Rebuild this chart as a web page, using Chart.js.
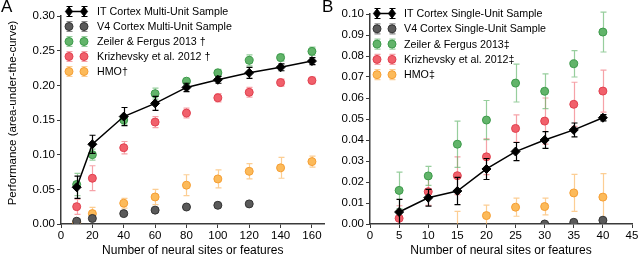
<!DOCTYPE html>
<html>
<head>
<meta charset="utf-8">
<script src="https://cdn.jsdelivr.net/npm/chart.js@4.4.1/dist/chart.umd.min.js"></script>
<style>
  body { margin: 0; background: #fff; width: 640px; height: 261px; position: relative; overflow: hidden;
         font-family: Arial, "Liberation Sans", Helvetica, sans-serif; }
  .wrap { position: absolute; top: 0; height: 261px; }
  #wa { left: 0; width: 330px; }
  #wb { left: 320px; width: 320px; }
  .lbl { position: absolute; top: -3px; font-size: 17px; color: #000; }
</style>
</head>
<body>
<div class="wrap" id="wa"><canvas id="ca" width="330" height="261"></canvas></div>
<div class="wrap" id="wb"><canvas id="cb" width="320" height="261"></canvas></div>
<div class="lbl" style="left:1px">A</div>
<div class="lbl" style="left:322px">B</div>
<script>
// panel A: multi-unit
const xsA = [10, 20, 40, 60, 80, 100, 120, 140, 160];
const xsV4A = [10, 20, 40, 60, 80, 100, 120];
const itA = [0.053, 0.115, 0.155, 0.174, 0.197, 0.208, 0.218, 0.226, 0.235];
const itAErr = [0.016, 0.013, 0.013, 0.010, 0.006, 0.005, 0.008, 0.005, 0.005];
const v4A = [0.004, 0.008, 0.015, 0.020, 0.0245, 0.027, 0.029];
const v4AErr = [0.003, 0.003, 0.002, 0.001, 0.001, 0.001, 0.001];
const zfA = [0.057, 0.100, 0.150, 0.188, 0.206, 0.218, 0.236, 0.240, 0.249];
const zfAErr = [0.016, 0.008, 0.006, 0.008, 0.004, 0.005, 0.008, 0.005, 0.006];
const kzA = [0.025, 0.066, 0.110, 0.147, 0.160, 0.182, 0.190, 0.204, 0.207];
const kzAErr = [0.011, 0.018, 0.009, 0.008, 0.007, 0.006, 0.007, 0.005, 0.005];
const hmoA = [0.0025, 0.015, 0.030, 0.039, 0.056, 0.065, 0.076, 0.081, 0.090];
const hmoAErr = [0.002, 0.009, 0.007, 0.011, 0.015, 0.013, 0.011, 0.015, 0.008];

// panel B: single-unit
const xsB = [5, 10, 15, 20, 25, 30, 35, 40];
const xsV4B = [30, 35, 40];
const xsHmoB = [15, 20, 25, 30, 35, 40];
const itB = [0.0057, 0.0125, 0.0157, 0.0262, 0.0345, 0.0400, 0.0448, 0.0506];
const itBErr = [0.006, 0.004, 0.0065, 0.005, 0.0043, 0.004, 0.0033, 0.0015];
const v4B = [0.0000, 0.0008, 0.0018];
const v4BErr = [0.0005, 0.0005, 0.0008];
const zfB = [0.0160, 0.0229, 0.0380, 0.0495, 0.0671, 0.0632, 0.0763, 0.0914];
const zfBErr = [0.0087, 0.0045, 0.011, 0.0093, 0.009, 0.0083, 0.0063, 0.0095];
const kzB = [0.0027, 0.0154, 0.0230, 0.0320, 0.0455, 0.0490, 0.0570, 0.0633];
const kzBErr = [0.006, 0.0065, 0.009, 0.0085, 0.0065, 0.011, 0.0105, 0.010];
const hmoB = [-0.003, 0.004, 0.008, 0.0083, 0.0148, 0.0128];
const hmoBErr = [0.009, 0.005, 0.0043, 0.004, 0.0088, 0.0112];

const ticksXA = [0, 20, 40, 60, 80, 100, 120, 140, 160];
const ticksYA = [0, 0.05, 0.10, 0.15, 0.20, 0.25, 0.30];
const ticksXB = [0, 5, 10, 15, 20, 25, 30, 35, 40, 45];
const ticksYB = [0, 0.01, 0.02, 0.03, 0.04, 0.05, 0.06, 0.07, 0.08, 0.09, 0.10];

const labelsA = ['IT Cortex Multi-Unit Sample', 'V4 Cortex Multi-Unit Sample',
  'Zeiler & Fergus 2013 \u2020', 'Krizhevsky et al. 2012 \u2020', 'HMO\u2020'];
const labelsB = ['IT Cortex Single-Unit Sample', 'V4 Cortex Single-Unit Sample',
  'Zeiler & Fergus 2013\u2021', 'Krizhevsky et al. 2012\u2021', 'HMO\u2021'];
const yTitleA = 'Performance (area-under-the-curve)';

const FONT = 'Arial, "Liberation Sans", Helvetica, sans-serif';
const AXIS = '#3a3a3a';

const styles = [
  { fill: '#000', border: '#000', err: '#000', shape: 'rectRot', r: 4.5, line: true },
  { fill: '#5a5a5a', border: '#333', err: '#888', shape: 'circle', r: 4 },
  { fill: '#62b46a', border: '#3c9a4a', err: 'rgba(95,180,105,0.65)', shape: 'circle', r: 4 },
  { fill: '#f1606b', border: '#e0404f', err: 'rgba(240,100,110,0.6)', shape: 'circle', r: 4 },
  { fill: '#fcba5a', border: '#f59e33', err: 'rgba(250,180,90,0.65)', shape: 'circle', r: 4 }
];

function pts(xs, ys) { return xs.map((x, i) => ({ x: x, y: ys[i] })); }

function makeSets(series, errs, labels) {
  return series.map((d, i) => {
    const s = styles[i];
    return {
      label: labels[i],
      data: d,
      err: errs[i],
      errColor: s.err,
      showLine: !!s.line,
      borderColor: s.line ? '#000' : s.border,
      borderWidth: 1.5,
      pointStyle: s.shape,
      pointRadius: s.r,
      pointBackgroundColor: s.fill,
      pointBorderColor: s.border,
      pointBorderWidth: 1,
      clip: 0
    };
  });
}

const errorBars = {
  id: 'errorBars',
  beforeDatasetDraw(chart, args) {
    const ds = chart.data.datasets[args.index];
    if (!ds.err) return;
    const y = chart.scales.y, ctx = chart.ctx, a = chart.chartArea;
    ctx.save();
    ctx.beginPath();
    ctx.rect(a.left, a.top - 10, a.right - a.left, a.bottom - a.top + 10);
    ctx.clip();
    ctx.strokeStyle = ds.errColor;
    ctx.lineWidth = 1.2;
    args.meta.data.forEach((pt, i) => {
      const v = ds.data[i].y, e = ds.err[i];
      const px = Math.round(pt.x) + 0.5;
      const t = y.getPixelForValue(v + e), b = y.getPixelForValue(v - e);
      ctx.beginPath();
      ctx.moveTo(px, t); ctx.lineTo(px, b);
      ctx.moveTo(px - 3, t); ctx.lineTo(px + 3, t);
      ctx.moveTo(px - 3, b); ctx.lineTo(px + 3, b);
      ctx.stroke();
    });
    ctx.restore();
  }
};

function marker(ctx, s, x, y) {
  ctx.fillStyle = s.fill;
  ctx.strokeStyle = s.border;
  ctx.lineWidth = 1;
  ctx.beginPath();
  if (s.shape === 'circle') {
    ctx.arc(x, y, s.r, 0, Math.PI * 2);
  } else {
    ctx.moveTo(x, y - s.r); ctx.lineTo(x + s.r * 0.8, y);
    ctx.lineTo(x, y + s.r); ctx.lineTo(x - s.r * 0.8, y); ctx.closePath();
  }
  ctx.fill();
  ctx.stroke();
}

const panelLegend = {
  id: 'panelLegend',
  afterDraw(chart, args, o) {
    const ctx = chart.ctx;
    ctx.save();
    ctx.font = o.size + 'px ' + FONT;
    ctx.textBaseline = 'middle';
    chart.data.datasets.forEach((ds, i) => {
      const s = styles[i];
      const y = o.y0 + i * o.dy;
      if (s.line) {
        ctx.strokeStyle = '#000'; ctx.lineWidth = 1.5;
        ctx.beginPath(); ctx.moveTo(o.x1, y); ctx.lineTo(o.x2, y); ctx.stroke();
      }
      [o.x1, o.x2].forEach(x => {
        const px = Math.round(x) + 0.5;
        ctx.strokeStyle = s.err; ctx.lineWidth = 1.2;
        ctx.beginPath();
        ctx.moveTo(px, y - 5); ctx.lineTo(px, y + 5);
        ctx.moveTo(px - 3, y - 5); ctx.lineTo(px + 3, y - 5);
        ctx.moveTo(px - 3, y + 5); ctx.lineTo(px + 3, y + 5);
        ctx.stroke();
        marker(ctx, s, x, y);
      });
      ctx.fillStyle = '#000';
      ctx.fillText(ds.label, o.tx, y + 0.5);
    });
    ctx.restore();
  }
};

// y title drawn by hand so it can sit a little above the axis centre, as in the figure
const yTitle = {
  id: 'yTitle',
  afterDraw(chart, args, o) {
    if (!o.text) return;
    const ctx = chart.ctx;
    ctx.save();
    ctx.translate(o.x, o.y);
    ctx.rotate(-Math.PI / 2);
    ctx.font = o.size + 'px ' + FONT;
    ctx.fillStyle = '#000';
    ctx.textAlign = 'center';
    ctx.textBaseline = 'middle';
    ctx.fillText(o.text, 0, 0);
    ctx.restore();
  }
};

function axes(xmax, ticksX, ticksY, ymax, yw) {
  const tickFont = { family: FONT, size: 11.5 };
  const grid = { display: true, drawOnChartArea: false, tickLength: 4, color: AXIS, lineWidth: 1 };
  const border = { display: true, color: AXIS, width: 1.5 };
  return {
    x: {
      type: 'linear', min: 0, max: xmax,
      afterBuildTicks: s => { s.ticks = ticksX.map(v => ({ value: v })); },
      afterFit: s => { s.height = 37; },
      ticks: { font: tickFont, color: '#000', padding: 1, maxRotation: 0, autoSkip: false },
      grid: grid, border: border,
      title: { display: true, text: 'Number of neural sites or features', color: '#000',
               font: { family: FONT, size: 12 }, padding: { top: 0, bottom: 3 } }
    },
    y: {
      min: 0, max: ymax,
      afterBuildTicks: s => { s.ticks = ticksY.map(v => ({ value: v })); },
      afterFit: s => { s.width = yw; },
      ticks: { font: tickFont, color: '#000', padding: 2, callback: v => v.toFixed(2), autoSkip: false },
      grid: grid, border: border
    }
  };
}

new Chart(document.getElementById('ca'), {
  type: 'line',
  data: {
    datasets: makeSets(
      [pts(xsA, itA), pts(xsV4A, v4A), pts(xsA, zfA), pts(xsA, kzA), pts(xsA, hmoA)],
      [itAErr, v4AErr, zfAErr, kzAErr, hmoAErr], labelsA)
  },
  options: {
    responsive: false, animation: false,
    layout: { padding: { top: 16, right: 5, left: 0, bottom: 0 } },
    scales: axes(168, ticksXA, ticksYA, 0.30, 61),
    plugins: {
      legend: { display: false }, tooltip: { enabled: false },
      panelLegend: { x1: 69, x2: 84, tx: 97, y0: 11.5, dy: 15, size: 10.7 },
      yTitle: { text: yTitleA, x: 13, y: 113, size: 11.5 }
    }
  },
  plugins: [errorBars, panelLegend, yTitle]
});

new Chart(document.getElementById('cb'), {
  type: 'line',
  data: {
    datasets: makeSets(
      [pts(xsB, itB), pts(xsV4B, v4B), pts(xsB, zfB), pts(xsB, kzB), pts(xsHmoB, hmoB)],
      [itBErr, v4BErr, zfBErr, kzBErr, hmoBErr], labelsB)
  },
  options: {
    responsive: false, animation: false,
    layout: { padding: { top: 14, right: 8, left: 0, bottom: 0 } },
    scales: axes(45, ticksXB, ticksYB, 0.10, 50),
    plugins: {
      legend: { display: false }, tooltip: { enabled: false },
      panelLegend: { x1: 57, x2: 72, tx: 84, y0: 13.5, dy: 15.3, size: 10.7 },
      yTitle: { text: '' }
    }
  },
  plugins: [errorBars, panelLegend, yTitle]
});
</script>
</body>
</html>
